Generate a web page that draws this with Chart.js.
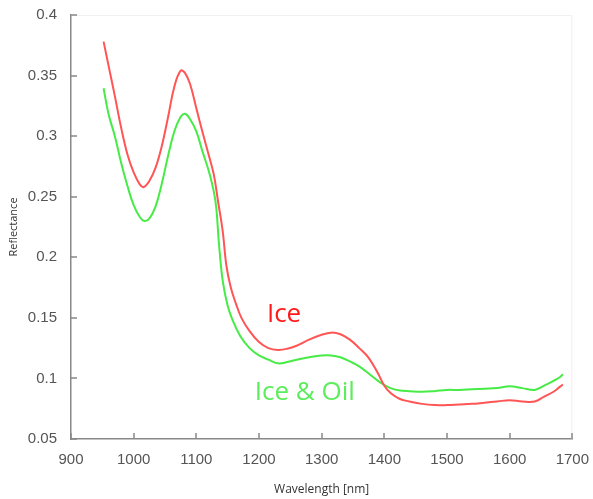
<!DOCTYPE html>
<html>
<head>
<meta charset="utf-8">
<script src="https://cdn.jsdelivr.net/npm/chart.js@4/dist/chart.umd.min.js"></script>
<style>
  html, body { margin: 0; padding: 0; background: #fff; }
  #wrap { width: 593px; height: 499px; }
</style>
</head>
<body>
<div id="wrap"><canvas id="spectra"></canvas></div>
<script>
// reflectance spectra
const iceWavelengths = [952, 960, 970, 980, 990, 1000, 1010, 1016, 1025, 1035, 1045, 1055, 1065, 1075, 1082, 1090, 1100, 1110, 1120, 1128, 1135, 1142, 1148, 1155, 1163, 1172, 1185, 1200, 1215, 1230, 1245, 1260, 1280, 1300, 1315, 1330, 1345, 1360, 1375, 1390, 1400, 1410, 1425, 1440, 1460, 1480, 1500, 1520, 1540, 1560, 1580, 1600, 1620, 1640, 1655, 1670, 1680, 1685];
const iceValues      = [0.378, 0.358, 0.333, 0.307, 0.285, 0.270, 0.260, 0.258, 0.263, 0.274, 0.292, 0.316, 0.341, 0.354, 0.352, 0.343, 0.323, 0.303, 0.284, 0.268, 0.245, 0.222, 0.193, 0.175, 0.162, 0.150, 0.139, 0.130, 0.125, 0.1235, 0.1245, 0.127, 0.132, 0.136, 0.1378, 0.1365, 0.132, 0.125, 0.117, 0.104, 0.094, 0.088, 0.083, 0.081, 0.079, 0.078, 0.078, 0.0785, 0.079, 0.080, 0.081, 0.082, 0.081, 0.081, 0.085, 0.089, 0.093, 0.095];

const oilWavelengths = [952, 960, 970, 980, 990, 1000, 1010, 1017, 1025, 1035, 1045, 1055, 1065, 1075, 1082, 1090, 1100, 1110, 1120, 1128, 1132, 1136, 1142, 1150, 1158, 1170, 1185, 1200, 1215, 1230, 1245, 1260, 1280, 1300, 1315, 1330, 1345, 1360, 1375, 1390, 1400, 1410, 1425, 1440, 1460, 1480, 1500, 1520, 1540, 1560, 1580, 1600, 1620, 1640, 1655, 1670, 1680, 1685];
const oilValues      = [0.3395, 0.318, 0.300, 0.278, 0.259, 0.243, 0.233, 0.230, 0.232, 0.242, 0.261, 0.284, 0.304, 0.316, 0.3185, 0.314, 0.304, 0.287, 0.271, 0.254, 0.240, 0.212, 0.181, 0.160, 0.148, 0.135, 0.125, 0.119, 0.1155, 0.1125, 0.1135, 0.1155, 0.1175, 0.119, 0.119, 0.1175, 0.114, 0.110, 0.104, 0.098, 0.0947, 0.092, 0.090, 0.0895, 0.089, 0.0895, 0.0905, 0.0905, 0.091, 0.0915, 0.092, 0.0935, 0.092, 0.0905, 0.094, 0.098, 0.101, 0.1035];

const xTicks = [900, 1000, 1100, 1200, 1300, 1400, 1500, 1600, 1700];
const yTicks = [0.05, 0.1, 0.15, 0.2, 0.25, 0.3, 0.35, 0.4];

const seriesLabels = ['Ice', 'Ice & Oil'];

function toPoints(xs, ys) {
  return xs.map((x, i) => ({ x, y: ys[i] }));
}

// faint frame, inward tick marks and the in-plot series labels
const decorations = {
  id: 'decorations',
  beforeDatasetsDraw(chart) {
    const { ctx, chartArea: a } = chart;
    ctx.save();
    ctx.strokeStyle = '#f0f0f0';
    ctx.lineWidth = 1;
    ctx.beginPath();
    ctx.moveTo(a.left, a.top + 0.5);
    ctx.lineTo(a.right - 0.5, a.top + 0.5);
    ctx.lineTo(a.right - 0.5, a.bottom);
    ctx.stroke();
    ctx.restore();
  },
  afterDatasetsDraw(chart) {
    const { ctx, chartArea: a, scales } = chart;
    ctx.save();
    ctx.strokeStyle = '#888';
    ctx.lineWidth = 1.5;
    ctx.beginPath();
    xTicks.forEach(v => {
      const px = Math.round(scales.x.getPixelForValue(v));
      ctx.moveTo(px, a.bottom);
      ctx.lineTo(px, a.bottom - 6);
    });
    yTicks.forEach(v => {
      const py = Math.round(scales.y.getPixelForValue(v));
      ctx.moveTo(a.left, py);
      ctx.lineTo(a.left + 6, py);
    });
    ctx.stroke();

    ctx.font = '26px "Open Sans"';
    ctx.textAlign = 'center';
    ctx.textBaseline = 'middle';
    ctx.fillStyle = '#ff1a1a';
    ctx.fillText(seriesLabels[0], scales.x.getPixelForValue(1240), scales.y.getPixelForValue(0.1525));
    ctx.fillStyle = '#5ced5c';
    ctx.fillText(seriesLabels[1], scales.x.getPixelForValue(1273), scales.y.getPixelForValue(0.088));
    ctx.restore();
  }
};

new Chart(document.getElementById('spectra'), {
  type: 'line',
  data: {
    datasets: [
      {
        label: seriesLabels[0],
        data: toPoints(iceWavelengths, iceValues),
        borderColor: 'rgb(255,85,85)',
        borderWidth: 2,
        pointRadius: 0,
        tension: 0.4,
        fill: false
      },
      {
        label: seriesLabels[1],
        data: toPoints(oilWavelengths, oilValues),
        borderColor: 'rgb(70,235,70)',
        borderWidth: 2,
        pointRadius: 0,
        tension: 0.4,
        fill: false
      }
    ]
  },
  options: {
    responsive: true,
    maintainAspectRatio: false,
    animation: false,
    layout: { padding: { top: 15, right: 18, left: 0, bottom: 0 } },
    plugins: { legend: { display: false }, tooltip: { enabled: false } },
    scales: {
      x: {
        type: 'linear',
        min: 900,
        max: 1700,
        afterBuildTicks: s => { s.ticks = xTicks.map(v => ({ value: v })); },
        afterFit: s => { s.height = 60; },
        grid: { display: false },
        border: { color: '#888', width: 1.5 },
        ticks: { color: '#555', font: { family: '"Liberation Sans", Arial', size: 15 }, padding: 4, maxRotation: 0, callback: v => String(v) },
        title: { display: true, text: 'Wavelength [nm]', color: '#333', font: { family: '"Open Sans"', size: 12 }, padding: { top: 0, bottom: 2 } }
      },
      y: {
        min: 0.05,
        max: 0.4,
        afterBuildTicks: s => { s.ticks = yTicks.map(v => ({ value: v })); },
        afterFit: s => { s.width = 71; },
        grid: { display: false },
        border: { color: '#888', width: 1.5 },
        ticks: { color: '#555', font: { family: '"Liberation Sans", Arial', size: 15 }, padding: 6, callback: v => String(+v.toFixed(2)) },
        title: { display: true, text: 'Reflectance', color: '#333', font: { family: '"Open Sans"', size: 11 }, padding: { top: 7, bottom: 0 } }
      }
    }
  },
  plugins: [decorations]
});
</script>
</body>
</html>
